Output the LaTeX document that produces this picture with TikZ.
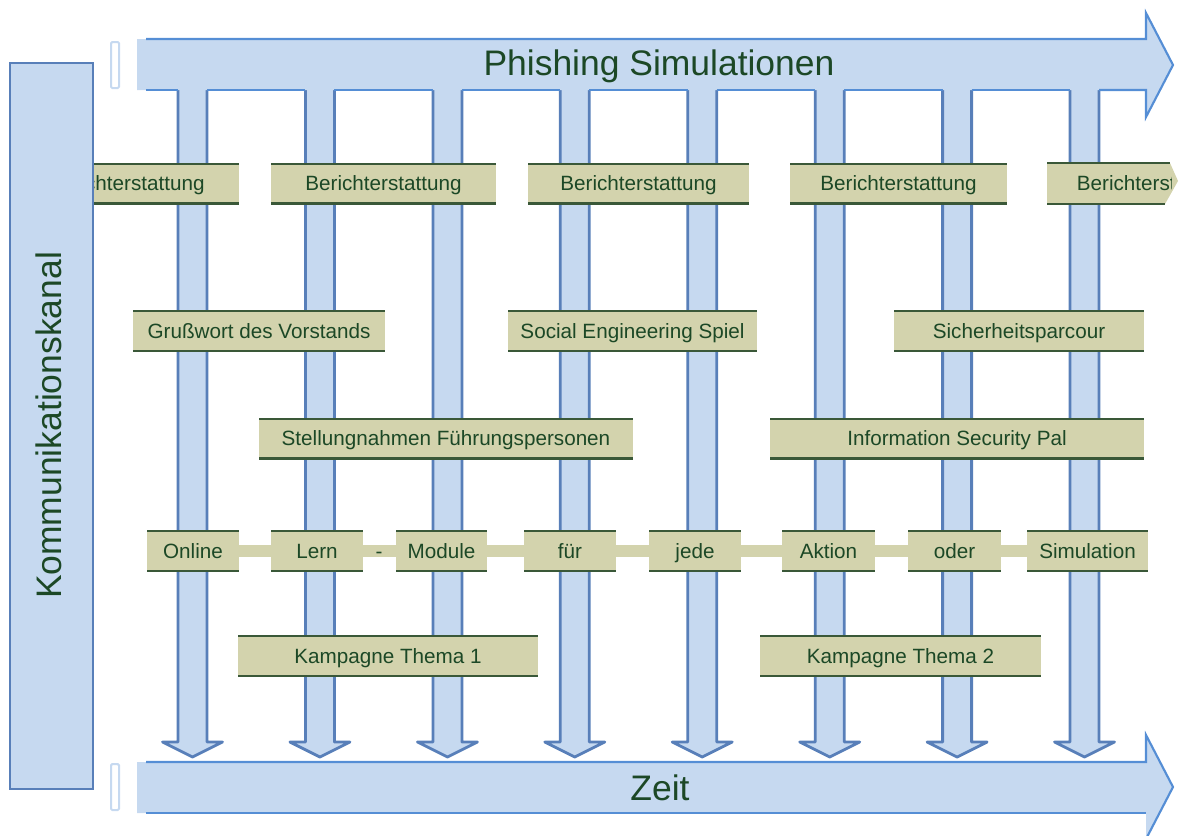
\documentclass[tikz,border=0pt]{standalone}
\usepackage{fontspec}
\setmainfont{Liberation Sans}
\definecolor{bfill}{RGB}{198,217,240}
\definecolor{stemline}{RGB}{88,127,185}
\definecolor{arrowline}{RGB}{85,142,213}
\definecolor{tanfill}{RGB}{211,211,173}
\definecolor{tanline}{RGB}{58,88,56}
\definecolor{txtgreen}{RGB}{28,72,38}
\newcommand\tb[5]{\node[tbox,minimum width={(#3-#2)*0.75pt}] (#1) at ({(#2+#3)/2},#4) {#5};}
\begin{document}
\begin{tikzpicture}[x=0.75pt,y=-0.75pt,
  stemarrow/.style={fill=bfill,draw=stemline,line width=2.1pt,line join=round},
  aline/.style={draw=arrowline,line width=1.6pt,line join=miter},
  tbox/.style={fill=tanfill,inner xsep=0pt,inner ysep=0pt,minimum height=41*0.75pt,
    text=txtgreen,font=\fontsize{15.5}{18}\selectfont,text height=11.1pt,text depth=0pt,
    path picture={\draw[tanline,line width=2.6pt]
      (path picture bounding box.north west)--(path picture bounding box.north east)
      (path picture bounding box.south west)--(path picture bounding box.south east);}},
  lbl/.style={text=txtgreen,font=\fontsize{15.5}{18}\selectfont,inner sep=0pt,text height=11.1pt,text depth=0pt},
  big/.style={text=txtgreen,font=\fontsize{26.6}{30}\selectfont,inner sep=0pt}]
\useasboundingbox (0,0) rectangle (1180,835);

% vertical stems with arrow heads
\foreach \cx in {192.5,319.9,447.4,574.8,702.2,829.7,957.1,1084.5}{
  \filldraw[stemarrow] (\cx-14.5,90) -- (\cx-14.5,742) -- (\cx-30,742) -- (\cx,757)
     -- (\cx+30,742) -- (\cx+14.5,742) -- (\cx+14.5,90);
}

% top arrow (Phishing Simulationen)
\fill[bfill] (137,39) -- (1146,39) -- (1146,13) -- (1173,65) -- (1146,117) -- (1146,90) -- (137,90) -- cycle;
\draw[aline] (146,39) -- (1146,39) -- (1146,13) -- (1173,65) -- (1146,117) -- (1146,90) -- (1099,90);
\foreach \a/\b in {146/178,207/305.4,334.4/432.9,461.9/560.3,589.3/687.7,716.7/815.2,844.2/942.6,971.6/1070}{
  \draw[aline] (\a,90) -- (\b,90);
}
\draw[draw=bfill,fill=white,line width=1.5pt,rounded corners=1pt] (111,42) rectangle (119,88);

% bottom arrow (Zeit)
\fill[bfill] (137,762) -- (1146,762) -- (1146,735) -- (1173,787) -- (1146,839) -- (1146,813) -- (137,813) -- cycle;
\draw[aline] (146,762) -- (1146,762) -- (1146,735) -- (1173,787) -- (1146,839);
\draw[aline] (146,813) -- (1146,813);
\draw[draw=bfill,fill=white,line width=1.5pt,rounded corners=1pt] (111,764) rectangle (119,810);

% Berichterstattung row
\tb{ber1}{14}{239}{183.5}{Berichterstattung}
\tb{ber2}{271}{496}{183.5}{Berichterstattung}
\tb{ber3}{528}{749}{183.5}{Berichterstattung}
\tb{ber4}{790}{1007}{183.5}{Berichterstattung}
\fill[tanfill] (1047,163) -- (1170,163) -- (1178,181) -- (1165,204) -- (1047,204) -- cycle;
\draw[tanline,line width=1.3pt] (1047,163) -- (1170,163) (1047,204) -- (1165,204);
\begin{scope}
  \clip (1040,150) rectangle (1171,215);
  \node[lbl] (ber5) at (1155,183.5) {Berichterstattung};
\end{scope}

% second row
\tb{gruss}{133}{385}{331}{Grußwort des Vorstands}
\tb{social}{508}{757}{331}{Social Engineering Spiel}
\tb{parcour}{894}{1144}{331}{Sicherheitsparcour}

% third row
\tb{stell}{259}{633}{438.5}{Stellungnahmen Führungspersonen}
\tb{pal}{770}{1144}{438.5}{Information Security Pal}

% fourth row
\fill[tanfill] (239,545) rectangle (1027,557);
\tb{online}{147}{239}{551}{Online}
\tb{lern}{271}{363}{551}{Lern}
\node[lbl] (dash) at (379,551) {-};
\tb{module}{396}{487}{551}{Module}
\tb{fuer}{524}{616}{551}{für}
\tb{jede}{649}{741}{551}{jede}
\tb{aktion}{782}{875}{551}{Aktion}
\tb{oder}{908}{1001}{551}{oder}
\tb{simul}{1027}{1148}{551}{Simulation}

% fifth row
\tb{kamp1}{238}{538}{656}{Kampagne Thema 1}
\tb{kamp2}{760}{1041}{656}{Kampagne Thema 2}

% Kommunikationskanal
\filldraw[fill=bfill,draw=stemline,line width=1.8pt] (10,63) rectangle (93,789);
\node[big,rotate=90,text height=19pt,text depth=0pt] (komm) at (48.5,425.5) {Kommunikationskanal};

% big titles
\node[big,anchor=base] (phish) at (659,75) {Phishing Simulationen};
\node[big,anchor=base] (zeit) at (660,800) {Zeit};
\end{tikzpicture}
\end{document}
